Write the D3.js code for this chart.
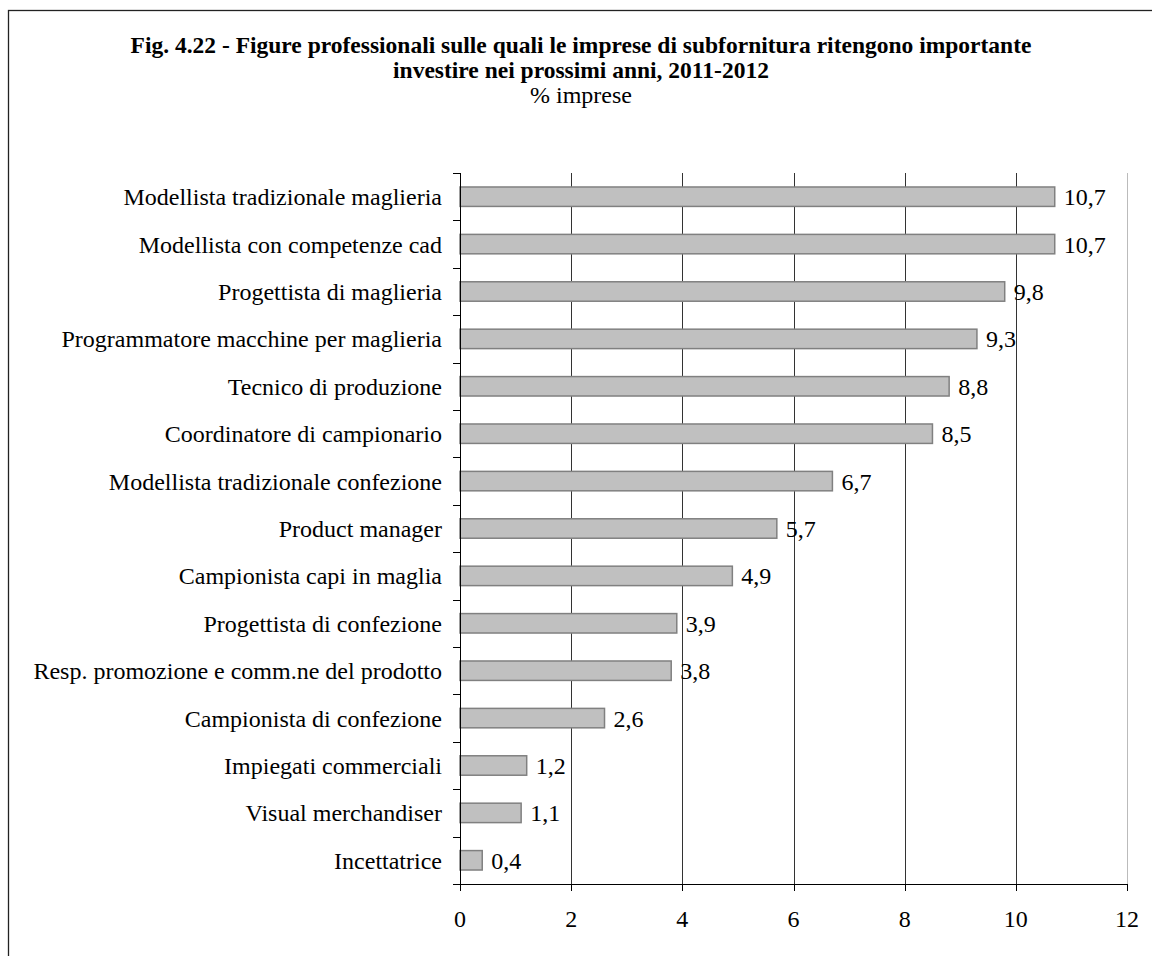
<!DOCTYPE html>
<html><head><meta charset="utf-8">
<script src="https://cdn.jsdelivr.net/npm/d3@7"></script>
<style>body{margin:0;background:#fff}svg{display:block}text{font-family:"Liberation Serif","Times New Roman",serif;fill:#000}</style>
</head><body><svg id="c" width="1152" height="956"></svg>
<script>
const categories = ["Modellista tradizionale maglieria","Modellista con competenze cad","Progettista di maglieria","Programmatore macchine per maglieria","Tecnico di produzione","Coordinatore di campionario","Modellista tradizionale confezione","Product manager","Campionista capi in maglia","Progettista di confezione","Resp. promozione e comm.ne del prodotto","Campionista di confezione","Impiegati commerciali","Visual merchandiser","Incettatrice"];
const values = [10.7,10.7,9.8,9.3,8.8,8.5,6.7,5.7,4.9,3.9,3.8,2.6,1.2,1.1,0.4];
const xTicks = [0,2,4,6,8,10,12];
const titleLines = ["Fig. 4.22 - Figure professionali sulle quali le imprese di subfornitura ritengono importante","investire nei prossimi anni, 2011-2012"];
const subtitle = "% imprese";

const svg = d3.select("#c");
svg.append("rect").attr("x",8.5).attr("y",10.5).attr("width",1200).attr("height",1000).attr("fill","none").attr("stroke","#222").attr("stroke-width",1.3);

const L=460, R=1127, T=173, B=884;
const FS=24;
const x = d3.scaleLinear().domain([0,12]).range([L,R]);
const y = d3.scaleBand().domain(categories).range([T,B]).paddingInner(0.59).paddingOuter(0.295);
const yb = d3.scaleBand().domain(categories).range([T,B]);

svg.selectAll(".t").data(titleLines).join("text").attr("x",581).attr("y",(d,i)=>53+i*25)
  .attr("text-anchor","middle").attr("font-weight","bold").attr("font-size",23.5).text(d=>d);
svg.append("text").attr("x",581).attr("y",103).attr("text-anchor","middle").attr("font-size",FS).text(subtitle);

// gridlines
svg.append("g").selectAll("line").data(xTicks.filter(d=>d>0)).join("line")
  .attr("x1",d=>Math.round(x(d))+0.5).attr("x2",d=>Math.round(x(d))+0.5).attr("y1",T).attr("y2",B)
  .attr("stroke",(d,i)=>d===12?"#bbb":"#333").attr("stroke-width",1);

// bars
svg.append("g").selectAll("rect").data(values).join("rect")
  .attr("x",L).attr("y",(d,i)=>y(categories[i])).attr("width",d=>x(d)-L).attr("height",y.bandwidth())
  .attr("fill","#c0c0c0").attr("stroke","#808080").attr("stroke-width",1.5);

// value labels
svg.append("g").selectAll("text").data(values).join("text")
  .attr("x",d=>x(d)+9).attr("y",(d,i)=>yb(categories[i])+yb.bandwidth()/2).attr("dy","0.35em")
  .attr("font-size",FS).text(d=>d.toFixed(1).replace(".",","));

// y axis
const ya = svg.append("g").attr("transform",`translate(${L},0)`);
ya.append("line").attr("x1",0.5).attr("x2",0.5).attr("y1",T).attr("y2",B).attr("stroke","#000");
ya.selectAll(".tk").data(categories).join("line").attr("x1",-7).attr("x2",0.5)
  .attr("y1",d=>Math.round(yb(d))+0.5).attr("y2",d=>Math.round(yb(d))+0.5).attr("stroke","#000");
ya.selectAll("text").data(categories).join("text").attr("x",-18).attr("y",d=>yb(d)+yb.bandwidth()/2)
  .attr("dy","0.35em").attr("text-anchor","end").attr("font-size",FS).text(d=>d);

// x axis
const xa = svg.append("g").attr("transform",`translate(0,${B})`);
xa.append("line").attr("x1",L-7).attr("x2",R).attr("y1",0.5).attr("y2",0.5).attr("stroke","#000");
xa.selectAll(".tk").data(xTicks).join("line").attr("x1",d=>Math.round(x(d))+0.5).attr("x2",d=>Math.round(x(d))+0.5)
  .attr("y1",0).attr("y2",7).attr("stroke","#000");
xa.selectAll("text").data(xTicks).join("text").attr("x",d=>x(d)).attr("y",43).attr("text-anchor","middle")
  .attr("font-size",FS).text(d=>d);
</script></body></html>
